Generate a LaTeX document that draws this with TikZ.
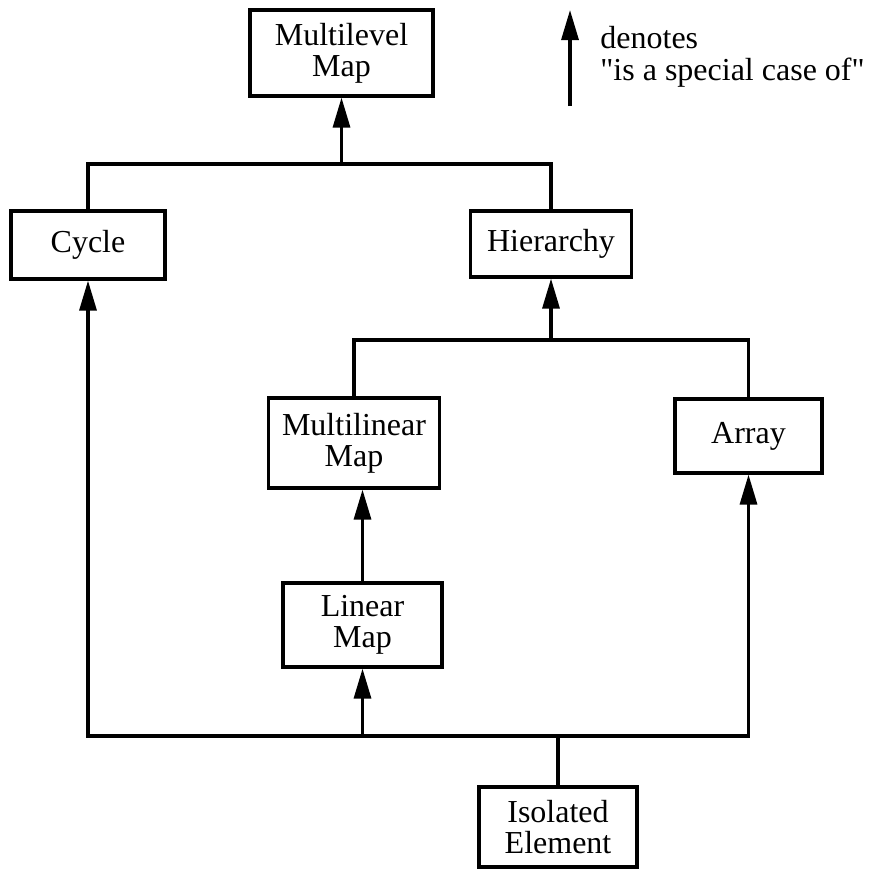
\documentclass[tikz,border=0pt]{standalone}
\usepackage{fontspec}
\setmainfont{Liberation Serif}
\usetikzlibrary{
    arrows.meta,
    positioning,
    calc
}
\tikzset{
  kind/.style   = {draw, line width=1.6pt, inner sep=0pt, align=center,
                   font=\fontsize{16pt}{15.5pt}\selectfont},
  link/.style   = {line width=1.6pt},
  isa/.style    = {-{Triangle[length=15pt,width=8.5pt]}, line width=1.6pt}
}

\begin{document}
\begin{tikzpicture}[x=0.5pt, y=-0.5pt]
\useasboundingbox (0,0) rectangle (870,868);
\node[kind,minimum width=91.5pt,minimum height=43pt] (mlm) at (341.5,53) {Multilevel\\Map};
\node[kind,minimum width=77pt,minimum height=34pt] (cyc) at (88,245) {Cycle};
\node[kind,minimum width=80.5pt,minimum height=33pt] (hier) at (551,244) {Hierarchy};
\node[kind,minimum width=85.5pt,minimum height=45pt] (mlin) at (354,443) {Multilinear\\Map};
\node[kind,minimum width=73.5pt,minimum height=37pt] (arr) at (748.5,436) {Array};
\node[kind,minimum width=79.5pt,minimum height=42pt] (lin) at (362.5,625) {Linear\\Map};
\node[kind,minimum width=79pt,minimum height=40pt] (iso) at (558,827) {Isolated\\Element};
\coordinate (j1) at (341.5,164);
\coordinate (j2) at (551,340);
\coordinate (j3) at (558,736);
\draw[link] (cyc.north) |- (j1) -| (hier.north);
\draw[isa] (j1) -- (mlm.south);
\draw[link] (mlin.north) |- (j2) -| (arr.north);
\draw[isa] (j2) -- (hier.south);
\draw[isa] (lin.north) -- (lin.north |- mlin.south);
\draw[link] (iso.north) -- (j3);
\draw[isa] (j3) -| (cyc.south);
\draw[isa] (j3) -| (arr.south);
\draw[isa] (lin.south |- j3) -- (lin.south);
\coordinate (legbot) at (570,106);
\coordinate (legtop) at (570,10);
\draw[isa] (legbot) -- (legtop);
\node[anchor=west,inner sep=0pt,align=left,font=\fontsize{16pt}{16pt}\selectfont] (legtext) at (600,57) {denotes\\\textquotedbl is a special case of\textquotedbl};
\end{tikzpicture}
\end{document}
